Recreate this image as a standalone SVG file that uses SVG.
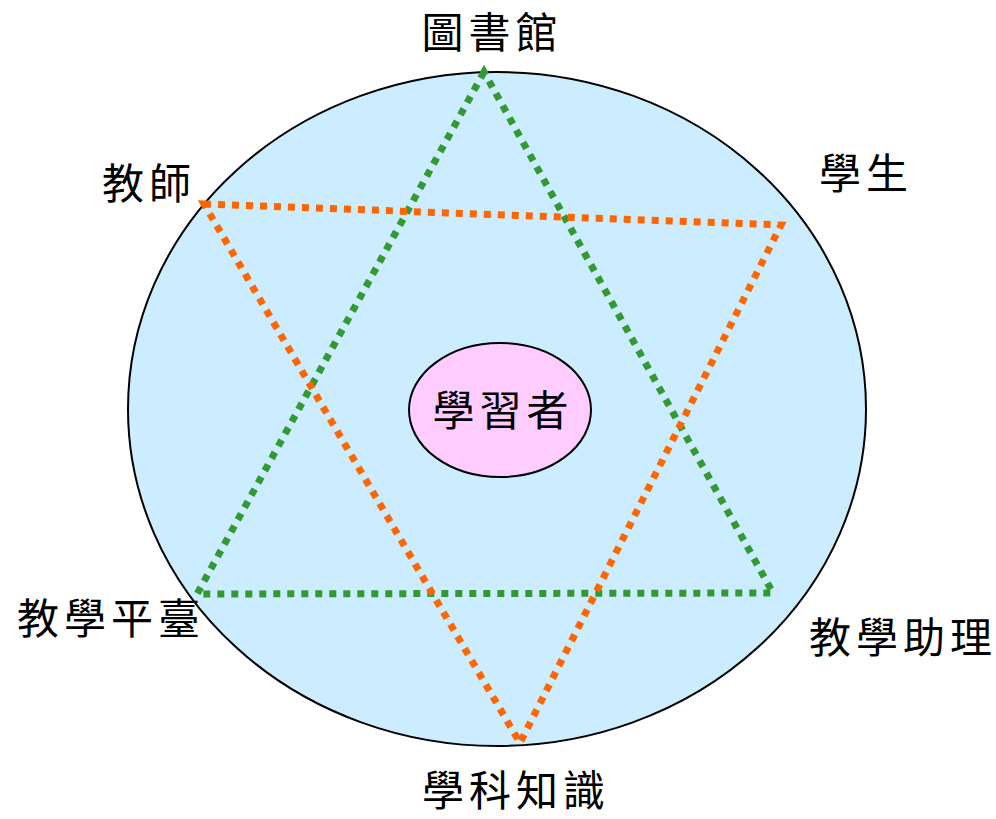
<svg xmlns="http://www.w3.org/2000/svg" width="996" height="819" viewBox="0 0 996 819">
<style>
.lbl{font-family:"Noto Sans CJK TC","Noto Sans CJK SC",serif;font-size:42px;letter-spacing:5px;fill:#000;text-anchor:middle}
.g{fill:none;stroke:#339933;stroke-width:7;stroke-dasharray:7 7}
.o{fill:none;stroke:#FF6600;stroke-width:7;stroke-dasharray:7 7}
</style>
<rect width="996" height="819" fill="#fff"/>
<g id="circle"><ellipse cx="497" cy="409" rx="369" ry="337" fill="#CCECFF" stroke="#000" stroke-width="2"/></g>
<g id="connectors">
<polygon class="g" points="484,72 197,594 773,593"/>
<polygon class="o" points="204,204 781,225 520,743"/>
</g>
<g id="learner"><ellipse cx="500" cy="410" rx="91" ry="67" fill="#FFCCFF" stroke="#000" stroke-width="2"/>
<text class="lbl" x="503" y="426">學習者</text></g>
<g id="library"><text class="lbl" x="492" y="48">圖書館</text></g>
<g id="teacher"><text class="lbl" x="149" y="199">教師</text></g>
<g id="student"><text class="lbl" x="866" y="189">學生</text></g>
<g id="platform"><text class="lbl" x="111" y="634">教學平臺</text></g>
<g id="assistant"><text class="lbl" x="903" y="653">教學助理</text></g>
<g id="knowledge"><text class="lbl" x="516" y="806">學科知識</text></g>
</svg>
